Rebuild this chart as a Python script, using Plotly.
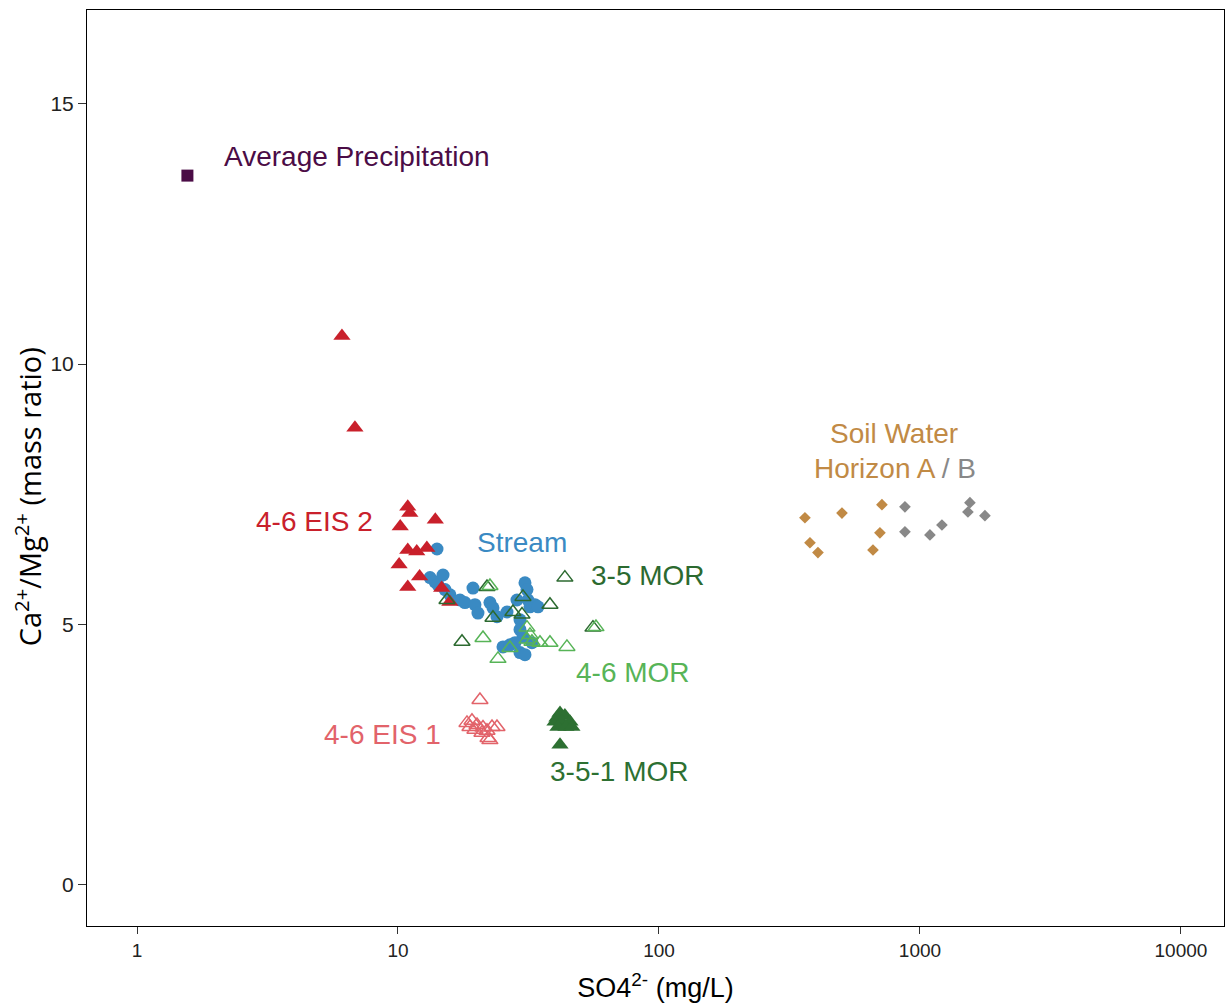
import math
import plotly.graph_objects as go

# ---------------- data ----------------
precip_x = [1.56]
precip_y = [13.62]

eis2_x = [6.1, 6.84, 10.9, 11.1, 13.9, 10.2, 10.9, 11.8, 12.9, 10.1, 12.1, 10.9, 14.7, 15.8]
eis2_y = [10.54, 8.78, 7.26, 7.14, 7.01, 6.88, 6.43, 6.40, 6.47, 6.15, 5.92, 5.72, 5.70, 5.43]

stream_x = [14.11, 13.27, 13.86, 14.23, 15.14, 15.82, 17.28, 18.05, 19.38, 19.72, 20.25, 22.51,
            23.12, 23.95, 25.25, 26.86, 28.57, 30.66, 31.21, 31.48, 32.04, 33.49, 34.39, 29.34,
            29.34, 30.12, 29.34, 30.66, 28.07, 32.61, 26.16, 14.88]
stream_y = [6.45, 5.90, 5.82, 5.76, 5.67, 5.57, 5.47, 5.42, 5.70, 5.38, 5.22, 5.42,
            5.32, 5.15, 4.57, 4.61, 5.47, 5.80, 5.67, 5.47, 5.34, 5.38, 5.34, 5.09,
            4.90, 4.76, 4.46, 4.42, 4.65, 4.65, 5.24, 5.95]

mor35_x = [43.6, 17.59, 21.93, 30.12, 38.22, 55.86, 23.12, 27.57, 29.86, 15.41]
mor35_y = [5.90, 4.67, 5.72, 5.53, 5.38, 4.94, 5.13, 5.24, 5.19, 5.47]

mor46_x = [22.51, 21.17, 26.86, 24.16, 31.21, 32.04, 32.61, 35.0, 38.22, 44.4, 31.21, 57.36]
mor46_y = [5.74, 4.74, 4.55, 4.34, 4.94, 4.80, 4.67, 4.65, 4.65, 4.57, 4.71, 4.95]

eis1_x = [20.61, 18.38, 19.21, 20.08, 21.17, 21.93, 22.92, 22.13, 20.98, 18.87, 19.72, 23.95, 22.5]
eis1_y = [3.55, 3.11, 3.15, 3.07, 3.02, 2.96, 3.03, 2.82, 2.92, 3.03, 2.98, 3.03, 2.78]

mor351_x = [41.76, 40.67, 43.6, 39.96, 42.5, 45.6, 41.0, 44.02, 46.4, 41.76]
mor351_y = [3.30, 3.21, 3.25, 3.13, 3.13, 3.13, 3.03, 3.03, 3.03, 2.69]

soilA_x = [362.5, 502.5, 715.0, 378.9, 406.6, 702.5, 660.7]
soilA_y = [7.05, 7.14, 7.30, 6.57, 6.38, 6.76, 6.43]

soilB_x = [876, 876, 1092, 1214, 1554, 1527, 1774]
soilB_y = [7.26, 6.78, 6.72, 6.91, 7.34, 7.16, 7.09]

x_ticks = [1, 10, 100, 1000, 10000]
x_ticklabels = ["1", "10", "100", "1000", "10000"]
y_ticks = [0, 5, 10, 15]

# ---------------- colours ----------------
C_PRECIP = "#4b0c46"
C_EIS2 = "#c9202b"
C_STREAM = "#3a8ac3"
C_MOR35 = "#2c6a30"
C_MOR46 = "#57b457"
C_EIS1 = "#e2636a"
C_MOR351 = "#2d7032"
C_SOILA = "#c18a45"
C_SOILB = "#888888"

fig = go.Figure()

def add(x, y, symbol, color, size, hollow=False, lw=1.5):
    if hollow:
        marker = dict(symbol=symbol + "-open", size=size, color=color, line=dict(width=lw, color=color))
    else:
        marker = dict(symbol=symbol, size=size, color=color, line=dict(width=0))
    fig.add_trace(go.Scatter(x=x, y=y, mode="markers", marker=marker, showlegend=False, hoverinfo="x+y"))

add(stream_x, stream_y, "circle", C_STREAM, 13)
add(eis2_x, eis2_y, "triangle-up", C_EIS2, 15)
add(mor35_x, mor35_y, "triangle-up", C_MOR35, 14, hollow=True)
add(mor46_x, mor46_y, "triangle-up", C_MOR46, 14, hollow=True)
add(eis1_x, eis1_y, "triangle-up", C_EIS1, 14, hollow=True)
add(mor351_x, mor351_y, "triangle-up", C_MOR351, 15)
add(soilA_x, soilA_y, "diamond", C_SOILA, 9)
add(soilB_x, soilB_y, "diamond", C_SOILB, 9)
add(precip_x, precip_y, "square", C_PRECIP, 12)

FONT = "Liberation Sans, Arial, sans-serif"
LS = 28

def label(text, x, y, color, xanchor):
    fig.add_annotation(x=x, y=y, xref="x", yref="y", text=text, showarrow=False,
                       xanchor=xanchor, yanchor="middle",
                       font=dict(family=FONT, size=LS, color=color))

label("Average Precipitation", math.log10(2.117), 13.98, C_PRECIP, "left")
label("4-6 EIS 2", math.log10(8.16), 6.97, C_EIS2, "right")
label("Stream", math.log10(29.87), 6.57, C_STREAM, "center")
label("3-5 MOR", math.log10(53.9), 5.95, C_MOR35, "left")
label("4-6 MOR", math.log10(47.2), 4.07, C_MOR46, "left")
label("4-6 EIS 1", math.log10(14.88), 2.88, C_EIS1, "right")
label("3-5-1 MOR", math.log10(37.6), 2.17, C_MOR351, "left")
label("Soil Water", math.log10(795), 8.66, C_SOILA, "center")
label(f'<span style="color:{C_SOILA}">Horizon A</span> <span style="color:{C_SOILB}">/ B</span>',
      math.log10(800), 7.99, C_SOILA, "center")

# y-axis title (annotation so it can sit slightly below centre, as in the reference)
fig.add_annotation(xref="paper", yref="paper", x=0, y=0.468, xshift=-59,
                   text="Ca<sup>2+</sup>/Mg<sup>2+</sup> (mass ratio)", textangle=-90,
                   showarrow=False, xanchor="center", yanchor="middle",
                   font=dict(family="Open Sans, sans-serif", size=29, color="black"))

fig.update_layout(
    width=1225, height=1006,
    margin=dict(l=87, r=1, t=10, b=80),
    paper_bgcolor="white", plot_bgcolor="white",
    font=dict(family=FONT, color="black"),
    showlegend=False,
)
fig.update_xaxes(
    type="log", range=[-0.1916, 4.165],
    tickvals=x_ticks, ticktext=x_ticklabels,
    ticks="outside", ticklen=7, tickwidth=1, tickcolor="#333333",
    showgrid=False, zeroline=False,
    showline=True, linecolor="black", linewidth=1, mirror=True,
    tickfont=dict(size=19, color="#222222"),
    title=dict(text="SO4<sup>2-</sup> (mg/L)", font=dict(size=27, color="black"), standoff=18),
)
fig.update_yaxes(
    range=[-0.79, 16.8],
    tickvals=y_ticks,
    ticks="outside", ticklen=8, tickwidth=1, tickcolor="#333333",
    showgrid=False, zeroline=False,
    showline=True, linecolor="black", linewidth=1, mirror=True,
    tickfont=dict(size=21, color="#222222"),
    title=dict(text=""),
)

fig.write_html("out.html", config={"displayModeBar": False},
               post_script="document.body.style.margin='0';document.body.style.overflow='hidden';")
